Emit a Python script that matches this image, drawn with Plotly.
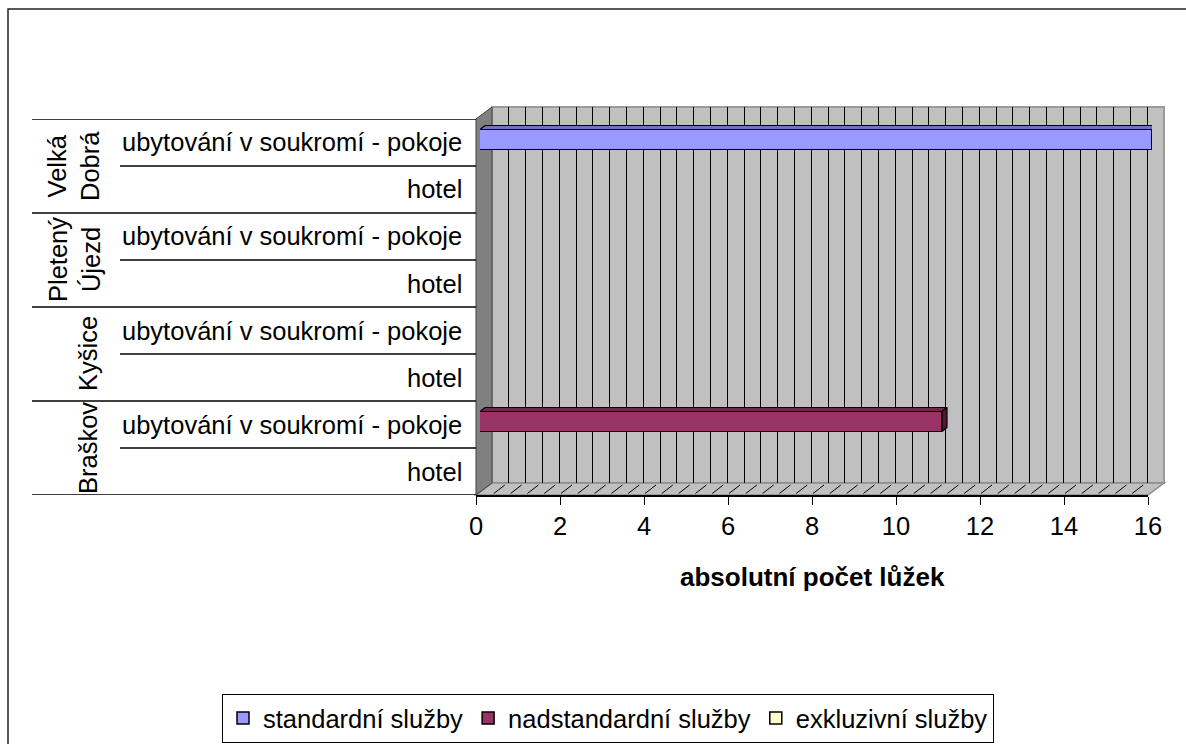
import numpy as np
import plotly.graph_objects as go

# ---------------- data ----------------
groups = ["Velká<br>Dobrá", "Pletený<br>Újezd", "Kyšice", "Braškov"]
subcats = ["ubytování v soukromí - pokoje", "hotel"]
series_names = ["standardní služby", "nadstandardní služby", "exkluzivní služby"]
standard = [16, 0, 0, 0, 0, 0, 0, 0]
nadstandard = [0, 0, 0, 0, 0, 0, 11, 0]
exkluzivni = [0, 0, 0, 0, 0, 0, 0, 0]
x_ticks = [0, 2, 4, 6, 8, 10, 12, 14, 16]
x_title = "absolutní počet lůžek"

# ---------------- style ----------------
W, H = 1186, 744
FONT = "Liberation Sans, Arial, sans-serif"
colors = ["#9999FF", "#993366", "#FFFFCC"]
top_colors = ["#7373C6", "#73264D", "#BFBF99"]
end_colors = ["#4D4D80", "#4D1A33", "#80806A"]

def px(x):
    return x / W

def py(y):
    return 1 - y / H

# front plane (axis) box in pixels
FX0, FX1, FY0, FY1 = 476, 1148, 119, 495
DEPTH_X, DEPTH_Y = 16, 12       # back wall offset
BAR_DX, BAR_DY = 4, 3           # bar plane offset
XMAX = 16

cats = list(range(len(standard)))
series = [standard, nadstandard, exkluzivni]

fig = go.Figure()

# subplot A: back wall grid (dummy trace)
fig.add_trace(go.Scatter(x=[None], y=[None], xaxis="x", yaxis="y",
                         showlegend=False, hoverinfo="skip"))
# subplot C: front axis (dummy trace)
fig.add_trace(go.Scatter(x=[None], y=[None], xaxis="x3", yaxis="y3",
                         showlegend=False, hoverinfo="skip"))

bar_w = 20 / 47.0
for name, vals, c in zip(series_names, series, colors):
    fig.add_trace(go.Bar(
        y=cats, x=[v if v else None for v in vals], orientation="h",
        name=name, marker=dict(color=c, line=dict(color="black", width=1.5)),
        width=bar_w, xaxis="x2", yaxis="y2"))

# 3D faces for bars (top + end), derived from data values
ux = XMAX / (FX1 - FX0)            # data units per px in x
uy = len(cats) / (FY1 - FY0)       # data units per px in y
ddx, ddy = 5 * ux, 4 * uy
cum = np.zeros(len(cats))
last_seg = {}
for si, vals in enumerate(series):
    for i, v in enumerate(vals):
        if v:
            x0 = cum[i]
            x1 = cum[i] + v
            yt = i - bar_w / 2
            fig.add_trace(go.Scatter(
                x=[x0, x1, x1 + ddx, x0 + ddx, x0],
                y=[yt, yt, yt - ddy, yt - ddy, yt],
                fill="toself", fillcolor=top_colors[si], mode="lines",
                line=dict(color="black", width=1.2), xaxis="x2", yaxis="y2",
                showlegend=False, hoverinfo="skip"))
            last_seg[i] = (si, x1)
            cum[i] = x1
for i, (si, x1) in last_seg.items():
    yt = i - bar_w / 2
    yb = i + bar_w / 2
    fig.add_trace(go.Scatter(
        x=[x1, x1 + ddx, x1 + ddx, x1, x1],
        y=[yt, yt - ddy, yb - ddy, yb, yt],
        fill="toself", fillcolor=end_colors[si], mode="lines",
        line=dict(color="black", width=1.2), xaxis="x2", yaxis="y2",
        showlegend=False, hoverinfo="skip"))

shapes = []
# outer chart border
shapes.append(dict(type="rect", xref="paper", yref="paper",
                   x0=px(8), y0=py(760), x1=px(1200), y1=py(9),
                   line=dict(color="#222222", width=1.5), layer="below"))
# back wall
shapes.append(dict(type="rect", xref="paper", yref="paper",
                   x0=px(FX0 + DEPTH_X), x1=px(FX1 + DEPTH_X),
                   y0=py(FY1 - DEPTH_Y), y1=py(FY0 - DEPTH_Y),
                   fillcolor="#C0C0C0", line=dict(color="#9A9A9A", width=2),
                   layer="below"))
# floor
shapes.append(dict(type="path", xref="paper", yref="paper",
                   path=f"M{px(FX0)},{py(FY1)} L{px(FX1)},{py(FY1)} "
                        f"L{px(FX1 + DEPTH_X)},{py(FY1 - DEPTH_Y)} "
                        f"L{px(FX0 + DEPTH_X)},{py(FY1 - DEPTH_Y)} Z",
                   fillcolor="#C0C0C0", line=dict(color="#8C8C8C", width=1.5),
                   layer="below"))
# floor hatching at grid positions
step = 0.4
for k in range(1, int(round(XMAX / step))):
    xf = FX0 + k * step * (FX1 - FX0) / XMAX
    shapes.append(dict(type="line", xref="paper", yref="paper",
                       x0=px(xf + 1), y0=py(FY1 - 1.5),
                       x1=px(xf + DEPTH_X - 4), y1=py(FY1 - DEPTH_Y + 2),
                       line=dict(color="black", width=1), layer="below"))
# left wall
shapes.append(dict(type="path", xref="paper", yref="paper",
                   path=f"M{px(FX0)},{py(FY0)} L{px(FX0 + DEPTH_X)},{py(FY0 - DEPTH_Y)} "
                        f"L{px(FX0 + DEPTH_X)},{py(FY1 - DEPTH_Y)} L{px(FX0)},{py(FY1)} Z",
                   fillcolor="#808080", line=dict(color="#404040", width=1),
                   layer="below"))

# category table lines (in front-plane category coordinates)
n = len(cats)
for b in range(0, n + 1, 2):
    shapes.append(dict(type="line", xref="paper", yref="y3",
                       x0=px(32), x1=px(FX0), y0=b - 0.5, y1=b - 0.5,
                       line=dict(color="black", width=1.5)))
for b in range(1, n, 2):
    shapes.append(dict(type="line", xref="paper", yref="y3",
                       x0=px(120), x1=px(FX0), y0=b - 0.5, y1=b - 0.5,
                       line=dict(color="black", width=1.5)))

annotations = []
for i in cats:
    annotations.append(dict(text=subcats[i % 2], xref="paper", yref="y3",
                            x=px(464), y=i, xanchor="right", yanchor="middle",
                            showarrow=False,
                            font=dict(family=FONT, size=25.5, color="black")))
for g, gname in enumerate(groups):
    cx = 74 if "<br>" in gname else 88
    annotations.append(dict(text=gname, xref="paper", yref="y3",
                            x=px(cx), y=2 * g + 0.5, xanchor="center",
                            yanchor="middle", textangle=-90, showarrow=False,
                            font=dict(family=FONT, size=25.5, color="black")))
annotations.append(dict(text=f"<b>{x_title}</b>", xref="paper", yref="paper",
                        x=px((FX0 + FX1) / 2), y=py(577), xanchor="center",
                        yanchor="middle", showarrow=False,
                        font=dict(family=FONT, size=26, color="black")))

fig.update_layout(
    width=W, height=H, autosize=False,
    margin=dict(l=0, r=0, t=0, b=0, pad=0, autoexpand=False),
    paper_bgcolor="white", plot_bgcolor="rgba(0,0,0,0)",
    barmode="stack", bargap=0,
    font=dict(family=FONT, size=25, color="black"),
    xaxis=dict(domain=[px(FX0 + DEPTH_X), px(FX1 + DEPTH_X)], range=[0, XMAX],
               anchor="y", tickvals=list(np.arange(0.4, 15.61, 0.4)),
               showticklabels=False, ticks="", showgrid=True,
               gridcolor="black", gridwidth=1, zeroline=False,
               showline=False, fixedrange=True, automargin=False),
    yaxis=dict(domain=[py(FY1 - DEPTH_Y), py(FY0 - DEPTH_Y)], range=[0, 1],
               anchor="x", visible=False, fixedrange=True),
    xaxis2=dict(domain=[px(FX0 + BAR_DX), px(FX1 + BAR_DX)], range=[0, XMAX],
                anchor="y2", visible=False, fixedrange=True),
    yaxis2=dict(domain=[py(FY1 - BAR_DY), py(FY0 - BAR_DY)],
                range=[n - 0.5, -0.5], anchor="x2", visible=False,
                fixedrange=True),
    xaxis3=dict(domain=[px(FX0), px(FX1)], range=[0, XMAX], anchor="y3",
                tickvals=x_ticks, ticks="outside", ticklen=8, tickwidth=1,
                tickcolor="black", showline=True, linecolor="black",
                linewidth=1.5, showgrid=False, zeroline=False,
                tickfont=dict(family=FONT, size=25.5, color="black"),
                fixedrange=True, automargin=False),
    yaxis3=dict(domain=[py(FY1), py(FY0)], range=[n - 0.5, -0.5],
                anchor="x3", visible=False, fixedrange=True),
    shapes=shapes,
    annotations=annotations,
    showlegend=True,
    legend=dict(orientation="h", x=px(608), xanchor="center",
                y=py(694), yanchor="top", bordercolor="black", borderwidth=1,
                bgcolor="white", traceorder="normal",
                font=dict(family=FONT, size=25.5, color="black")),
)

fig.write_html(
    "out.html",
    config={"responsive": False, "displayModeBar": False},
    post_script="document.body.style.margin='0';"
                "document.body.style.padding='0';"
                "document.body.style.overflow='hidden';",
)
